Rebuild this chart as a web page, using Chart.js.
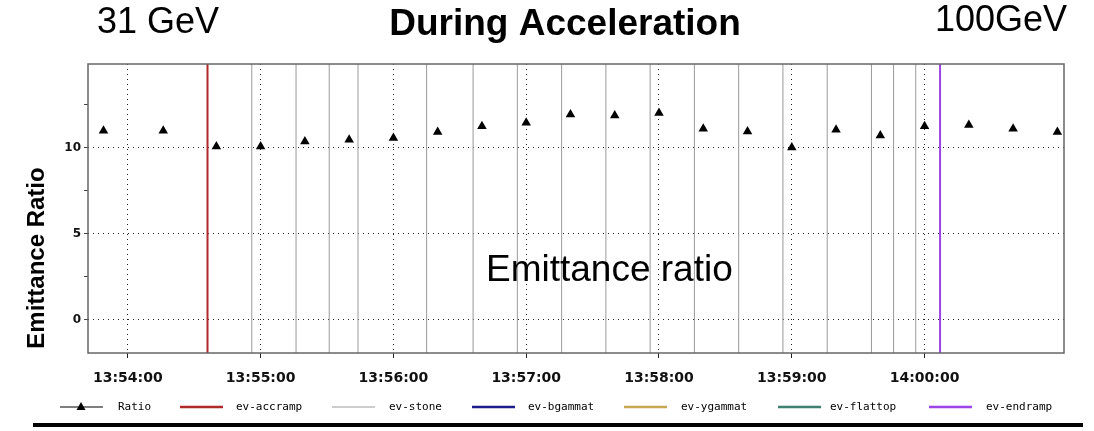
<!DOCTYPE html>
<html>
<head>
<meta charset="utf-8">
<script src="https://cdn.jsdelivr.net/npm/chart.js@4/dist/chart.umd.min.js"></script>
<style>
  html, body { margin: 0; padding: 0; background: #fff; }
  #wrap { width: 1094px; height: 431px; position: relative; }
</style>
</head>
<body>
<div id="wrap"><canvas id="chart" width="1094" height="431"></canvas></div>
<script>
// times are hh:mm:ss, converted to seconds after 13:54:00 for the linear x axis
const ratioTimes = ["13:53:49", "13:54:16", "13:54:40", "13:55:00", "13:55:20", "13:55:40",
  "13:56:00", "13:56:20", "13:56:40", "13:57:00", "13:57:20", "13:57:40", "13:58:00",
  "13:58:20", "13:58:40", "13:59:00", "13:59:20", "13:59:40", "14:00:00", "14:00:20",
  "14:00:40", "14:01:00"];
const ratioValues = [11.0, 11.0, 10.09, 10.09, 10.38, 10.47, 10.58, 10.93, 11.26, 11.47,
  11.94, 11.88, 12.03, 11.12, 10.95, 10.03, 11.06, 10.73, 11.26, 11.34, 11.12, 10.93];

const accrampTimes = ["13:54:36"];
const stoneTimes = ["13:54:56", "13:55:16", "13:55:31", "13:55:44", "13:56:15", "13:56:36",
  "13:56:56", "13:57:16", "13:57:36", "13:57:56", "13:58:16", "13:58:36", "13:58:56",
  "13:59:16", "13:59:36", "13:59:46", "13:59:56"];
const bgammatTimes = [];
const ygammatTimes = [];
const flattopTimes = [];
const endrampTimes = ["14:00:07"];

const xTickTimes = ["13:54:00", "13:55:00", "13:56:00", "13:57:00", "13:58:00", "13:59:00", "14:00:00"];
const xMinTime = "13:53:42";
const xMaxTime = "14:01:03";
const yMin = -1.92, yMax = 14.88;

function toSec(t) {
  const [h, m, s] = t.split(":").map(Number);
  return (h * 3600 + m * 60 + s) - (13 * 3600 + 54 * 60);
}
function fmt(sec) {
  const total = Math.round(sec) + 13 * 3600 + 54 * 60;
  const h = Math.floor(total / 3600), m = Math.floor(total / 60) % 60, s = total % 60;
  return [h, m, s].map(v => String(v).padStart(2, "0")).join(":");
}

// vertical event lines: one segment per time, gaps in between
function eventLine(times) {
  const pts = [];
  times.forEach(t => {
    pts.push({ x: toSec(t), y: yMin }, { x: toSec(t), y: yMax }, { x: toSec(t), y: null });
  });
  return pts;
}
function eventSet(label, color, times, width) {
  return {
    label: label,
    type: "line",
    data: eventLine(times),
    borderColor: color,
    backgroundColor: color,
    borderWidth: width,
    pointRadius: 0,
    spanGaps: false,
    order: 2
  };
}

const legendPos = [
  { line: 60, text: 118 }, { line: 180, text: 236 }, { line: 332, text: 389 },
  { line: 472, text: 528 }, { line: 624, text: 681 }, { line: 778, text: 830 },
  { line: 929, text: 986 }
];

const extras = {
  id: "extras",
  afterDraw(chart) {
    const ctx = chart.ctx;
    const a = chart.chartArea;
    ctx.save();
    // plot frame
    ctx.strokeStyle = "#666";
    ctx.lineWidth = 1.5;
    ctx.strokeRect(a.left, a.top, a.right - a.left, a.bottom - a.top);

    // headings
    ctx.fillStyle = "#000";
    ctx.textBaseline = "middle";
    ctx.textAlign = "left";
    ctx.font = "36px 'Liberation Sans', Arial, sans-serif";
    ctx.fillText("31 GeV", 97, 23);
    ctx.fillText("100GeV", 935, 21);
    ctx.font = "bold 37px 'Liberation Sans', Arial, sans-serif";
    ctx.textAlign = "center";
    ctx.fillText("During Acceleration", 565, 25);

    ctx.font = "37px 'Liberation Sans', Arial, sans-serif";
    ctx.textAlign = "left";
    ctx.fillText("Emittance ratio", 486, 271);

    // y title
    ctx.save();
    ctx.translate(37, 258);
    ctx.rotate(-Math.PI / 2);
    ctx.textAlign = "center";
    ctx.font = "bold 24px 'Liberation Sans', Arial, sans-serif";
    ctx.fillText("Emittance Ratio", 0, 0);
    ctx.restore();

    // legend
    const ly = 407;
    ctx.font = "11px 'DejaVu Sans Mono', monospace";
    ctx.textAlign = "left";
    chart.data.datasets.forEach((ds, i) => {
      const p = legendPos[i];
      ctx.strokeStyle = ds.borderColor;
      ctx.lineWidth = i === 0 ? 1.2 : (i === 2 ? 1 : 2.5);
      ctx.beginPath();
      ctx.moveTo(p.line, ly);
      ctx.lineTo(p.line + 43, ly);
      ctx.stroke();
      if (i === 0) {
        const cx = p.line + 21;
        ctx.fillStyle = "#000";
        ctx.beginPath();
        ctx.moveTo(cx, ly - 5);
        ctx.lineTo(cx + 4.5, ly + 3);
        ctx.lineTo(cx - 4.5, ly + 3);
        ctx.closePath();
        ctx.fill();
      }
      ctx.fillStyle = "#000";
      ctx.fillText(ds.label, p.text, ly);
    });

    // bottom rule
    ctx.fillStyle = "#000";
    ctx.fillRect(33, 423, 1050, 4);
    ctx.restore();
  }
};

const ctx = document.getElementById("chart").getContext("2d");
new Chart(ctx, {
  type: "scatter",
  data: {
    datasets: [
      {
        label: "Ratio",
        data: ratioTimes.map((t, i) => ({ x: toSec(t), y: ratioValues[i] })),
        pointStyle: "triangle",
        pointRadius: 5.5,
        backgroundColor: "#000",
        borderColor: "#000",
        borderWidth: 0,
        showLine: false,
        order: 0
      },
      eventSet("ev-accramp", "#b02a2a", accrampTimes, 2),
      eventSet("ev-stone", "#9a9a9a", stoneTimes, 1),
      eventSet("ev-bgammat", "#1c1c8c", bgammatTimes, 2),
      eventSet("ev-ygammat", "#c8a850", ygammatTimes, 2),
      eventSet("ev-flattop", "#3f8070", flattopTimes, 2),
      eventSet("ev-endramp", "#9b45e6", endrampTimes, 2)
    ]
  },
  options: {
    responsive: false,
    animation: false,
    layout: { padding: { left: 0, top: 64, right: 30, bottom: 0 } },
    plugins: {
      legend: { display: false },
      tooltip: { enabled: false }
    },
    scales: {
      x: {
        type: "linear",
        min: toSec(xMinTime),
        max: toSec(xMaxTime),
        afterFit: s => { s.height = 78; },
        afterBuildTicks: s => { s.ticks = xTickTimes.map(t => ({ value: toSec(t) })); },
        grid: {
          color: "#222",
          lineWidth: 1,
          tickColor: "#222",
          tickLength: 5,
          tickBorderDash: []
        },
        border: { display: false, dash: [1, 4] },
        ticks: {
          callback: v => fmt(v),
          color: "#111",
          padding: 12,
          maxRotation: 0,
          autoSkip: false,
          font: { family: "'DejaVu Sans'", size: 14, weight: "bold" }
        }
      },
      y: {
        min: yMin,
        max: yMax,
        afterFit: s => { s.width = 88; },
        afterBuildTicks: s => { s.ticks = [0, 2.5, 5, 7.5, 10, 12.5].map(v => ({ value: v })); },
        grid: {
          color: c => (c.tick && c.tick.value % 5 === 0) ? "#222" : "rgba(0,0,0,0)",
          lineWidth: 1,
          tickColor: "#444",
          tickLength: 4,
          tickBorderDash: []
        },
        border: { display: false, dash: [1, 4] },
        ticks: {
          callback: v => (v % 5 === 0 ? String(v) : ""),
          color: "#111",
          padding: 3,
          font: { family: "'DejaVu Sans'", size: 12, weight: "bold" }
        }
      }
    }
  },
  plugins: [extras]
});
</script>
</body>
</html>
